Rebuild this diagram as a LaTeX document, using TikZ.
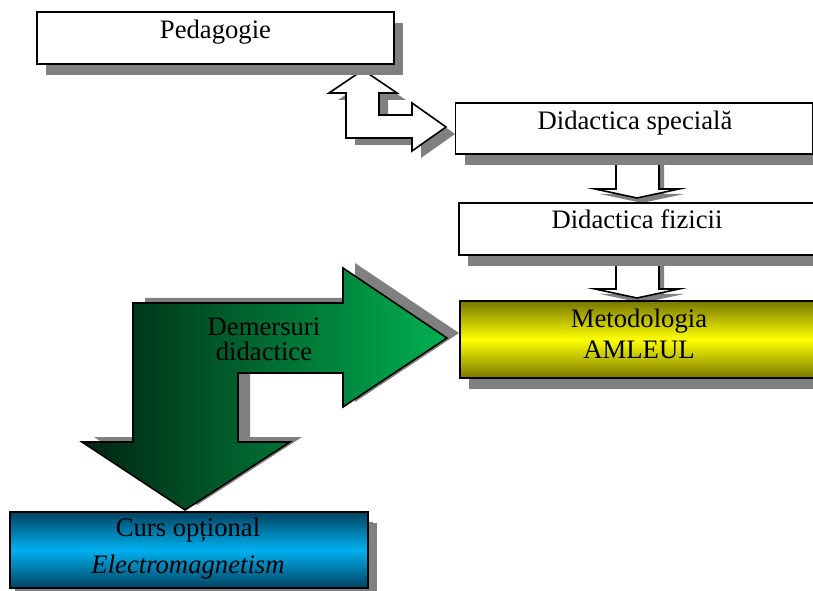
\documentclass[tikz,border=0pt]{standalone}
\usepackage{fontspec}
\setmainfont{Liberation Serif}
\usepackage{tikz}
\usetikzlibrary{shadows, positioning}
\definecolor{shadowGray}{RGB}{128,128,128}
\definecolor{colorYellowDark}{RGB}{120,120,0}
\definecolor{colorYellow}{RGB}{255,255,0}
\definecolor{colorBlueDark}{RGB}{0,66,96}
\definecolor{colorBlue}{RGB}{0,176,240}
\definecolor{colorGreenDark}{RGB}{0,36,18}
\definecolor{colorGreen}{RGB}{0,176,80}
\tikzset{
  box/.style={draw, line width=1.2pt, inner sep=0pt, minimum width=267.75pt,
    drop shadow={shadow xshift=6.75pt, shadow yshift=-8.25pt, fill=shadowGray, opacity=1}},
  blockarrow/.style={draw, fill=white, line width=1.2pt, line join=miter},
  lbl/.style={inner sep=0pt, align=center}
}
\newcommand{\pathBent}{(329,93) -- (363,70) -- (397,93) -- (379,93) -- (379,115) -- (412,115) -- (412,103) -- (446,127) -- (412,151) -- (412,138) -- (346,138) -- (346,93) -- cycle}
\newcommand{\pathDemers}{(133,303) -- (343,303) -- (343,268) -- (447,338) -- (343,407) -- (343,373) -- (238,373) -- (238,442) -- (290,442) -- (185,510) -- (82,442) -- (133,442) -- cycle}

\begin{document}
\begin{tikzpicture}[x=0.75pt, y=-0.75pt, font=\fontsize{20}{23}\selectfont]
\useasboundingbox (0,0) rectangle (813,591);

% white block arrows
\fill[shadowGray, shift={(9,7)}] \pathBent;
\draw[blockarrow] \pathBent;
\foreach \h in {189,289} {
  \fill[shadowGray, shift={(5,5)}] (616,\h-30) -- (616,\h) -- (595,\h) -- (637,\h+9) -- (679,\h) -- (659,\h) -- (659,\h-30) -- cycle;
  \draw[blockarrow] (616,\h-30) -- (616,\h) -- (595,\h) -- (637,\h+9) -- (679,\h) -- (659,\h) -- (659,\h-30) -- cycle;
}

% green arrow
\fill[shadowGray, shift={(12,-5)}] \pathDemers;
\shade[left color=colorGreenDark, right color=colorGreen] \pathDemers;
\draw[line width=1.2pt, line join=miter] \pathDemers;
\node[lbl, font=\fontsize{20}{18.75}\selectfont] (demtxt) at (264,339.6) {Demersuri\\didactice};

% boxes
\node[box, fill=white, minimum height=39pt] (ped) at (215.5,38) {};
\node[box, fill=white, minimum height=38.25pt] (spec) at (634,128.5) {};
\node[box, fill=white, minimum height=39pt, minimum width=276pt] (fiz) at (643,229) {};
\node[box, top color=colorYellowDark, bottom color=colorYellowDark, middle color=colorYellow, minimum height=57.75pt, minimum width=276pt] (meto) at (644,339.5) {};
\node[box, top color=colorBlueDark, bottom color=colorBlueDark, middle color=colorBlue, minimum height=57pt, minimum width=268.5pt,
  drop shadow={shadow xshift=3.75pt, shadow yshift=-7.5pt, fill=shadowGray, opacity=1}] (curs) at (189,550) {};

% texts
\node[lbl, anchor=base] (pedtxt) at (215.5,39) {Pedagogie};
\node[lbl, anchor=base] (spectxt) at (635,130) {Didactica special\u{a}};
\node[lbl, anchor=base] (fiztxt) at (637,229) {Didactica fizicii};
\node[lbl, font=\fontsize{20}{23.25}\selectfont] (metotxt) at (639,333.6) {Metodologia\\AMLEUL};
\node[lbl, font=\fontsize{20}{27.75}\selectfont] (curstxt) at (188,548.4) {Curs op\char"021B ional\\\textit{Electromagnetism}};
\end{tikzpicture}
\end{document}
